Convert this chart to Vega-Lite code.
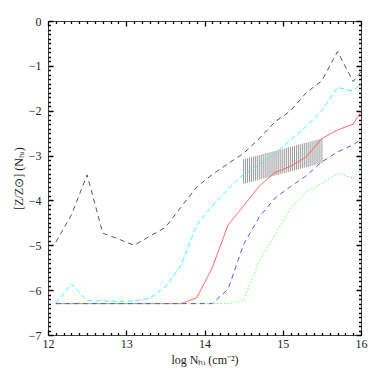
{
  "$schema": "https://vega.github.io/schema/vega-lite/v6.json",
  "width": 313,
  "height": 314,
  "autosize": {"type": "none"},
  "padding": {"left": 48, "top": 21, "right": 21, "bottom": 47},
  "background": "white",
  "config": {
    "view": {"stroke": "#444", "strokeWidth": 1},
    "axis": {"labelFont": "Liberation Serif", "titleFont": "Liberation Serif", "labelFontSize": 12, "titleFontSize": 12, "titleFontWeight": "normal", "labelColor": "#222", "titleColor": "#222", "grid": false, "domain": false, "ticks": true, "tickColor": "#000", "tickWidth": 1.3, "tickSize": 5, "offset": -5, "labelFlush": false, "labelOverlap": false, "zindex": 1,
      "tickDash": {"condition": {"test": "abs(datum.value - round(datum.value)) < 0.01", "value": [1, 0]}, "value": [0, 2.5, 2.5, 0]}}
  },
  "datasets": {
    "hatch": [
      {"x": 14.5, "lo": -3.63, "hi": -3.08},
      {"x": 14.525, "lo": -3.619, "hi": -3.069},
      {"x": 14.55, "lo": -3.607, "hi": -3.057},
      {"x": 14.575, "lo": -3.596, "hi": -3.046},
      {"x": 14.6, "lo": -3.584, "hi": -3.034},
      {"x": 14.625, "lo": -3.573, "hi": -3.023},
      {"x": 14.65, "lo": -3.561, "hi": -3.011},
      {"x": 14.675, "lo": -3.55, "hi": -3.0},
      {"x": 14.7, "lo": -3.538, "hi": -2.988},
      {"x": 14.725, "lo": -3.527, "hi": -2.977},
      {"x": 14.75, "lo": -3.515, "hi": -2.965},
      {"x": 14.775, "lo": -3.504, "hi": -2.954},
      {"x": 14.8, "lo": -3.492, "hi": -2.942},
      {"x": 14.825, "lo": -3.481, "hi": -2.931},
      {"x": 14.85, "lo": -3.469, "hi": -2.919},
      {"x": 14.875, "lo": -3.458, "hi": -2.908},
      {"x": 14.9, "lo": -3.446, "hi": -2.896},
      {"x": 14.925, "lo": -3.435, "hi": -2.885},
      {"x": 14.95, "lo": -3.423, "hi": -2.873},
      {"x": 14.975, "lo": -3.412, "hi": -2.862},
      {"x": 15.0, "lo": -3.4, "hi": -2.85},
      {"x": 15.025, "lo": -3.389, "hi": -2.839},
      {"x": 15.05, "lo": -3.377, "hi": -2.827},
      {"x": 15.075, "lo": -3.366, "hi": -2.816},
      {"x": 15.1, "lo": -3.354, "hi": -2.804},
      {"x": 15.125, "lo": -3.343, "hi": -2.793},
      {"x": 15.15, "lo": -3.331, "hi": -2.781},
      {"x": 15.175, "lo": -3.32, "hi": -2.77},
      {"x": 15.2, "lo": -3.308, "hi": -2.758},
      {"x": 15.225, "lo": -3.297, "hi": -2.747},
      {"x": 15.25, "lo": -3.285, "hi": -2.735},
      {"x": 15.275, "lo": -3.274, "hi": -2.724},
      {"x": 15.3, "lo": -3.262, "hi": -2.712},
      {"x": 15.325, "lo": -3.251, "hi": -2.701},
      {"x": 15.35, "lo": -3.239, "hi": -2.689},
      {"x": 15.375, "lo": -3.228, "hi": -2.678},
      {"x": 15.4, "lo": -3.216, "hi": -2.666},
      {"x": 15.425, "lo": -3.205, "hi": -2.655},
      {"x": 15.45, "lo": -3.193, "hi": -2.643},
      {"x": 15.475, "lo": -3.182, "hi": -2.632},
      {"x": 15.5, "lo": -3.17, "hi": -2.62}
    ],
    "lines": [
      {"s": "k", "x": 12.1, "y": -4.93}, {"s": "k", "x": 12.3, "y": -4.32}, {"s": "k", "x": 12.5, "y": -3.43},
      {"s": "k", "x": 12.7, "y": -4.73}, {"s": "k", "x": 12.9, "y": -4.86}, {"s": "k", "x": 13.1, "y": -5.0},
      {"s": "k", "x": 13.3, "y": -4.8}, {"s": "k", "x": 13.5, "y": -4.6}, {"s": "k", "x": 13.7, "y": -4.15},
      {"s": "k", "x": 13.9, "y": -3.7}, {"s": "k", "x": 14.1, "y": -3.42}, {"s": "k", "x": 14.3, "y": -3.18},
      {"s": "k", "x": 14.5, "y": -2.95}, {"s": "k", "x": 14.7, "y": -2.62}, {"s": "k", "x": 14.9, "y": -2.25},
      {"s": "k", "x": 15.1, "y": -2.0}, {"s": "k", "x": 15.3, "y": -1.6}, {"s": "k", "x": 15.5, "y": -1.33},
      {"s": "k", "x": 15.7, "y": -0.68}, {"s": "k", "x": 15.9, "y": -1.35}, {"s": "k", "x": 16.0, "y": -1.13},

      {"s": "c", "x": 12.1, "y": -6.29}, {"s": "c", "x": 12.3, "y": -5.86}, {"s": "c", "x": 12.5, "y": -6.23},
      {"s": "c", "x": 12.7, "y": -6.24}, {"s": "c", "x": 12.9, "y": -6.25}, {"s": "c", "x": 13.1, "y": -6.24},
      {"s": "c", "x": 13.3, "y": -6.18}, {"s": "c", "x": 13.5, "y": -5.93}, {"s": "c", "x": 13.7, "y": -5.45},
      {"s": "c", "x": 13.9, "y": -4.55}, {"s": "c", "x": 14.1, "y": -4.12}, {"s": "c", "x": 14.3, "y": -3.75},
      {"s": "c", "x": 14.5, "y": -3.42}, {"s": "c", "x": 14.7, "y": -3.2}, {"s": "c", "x": 14.9, "y": -2.95},
      {"s": "c", "x": 15.1, "y": -2.65}, {"s": "c", "x": 15.3, "y": -2.35}, {"s": "c", "x": 15.5, "y": -2.0},
      {"s": "c", "x": 15.7, "y": -1.48}, {"s": "c", "x": 15.9, "y": -1.56}, {"s": "c", "x": 16.0, "y": -1.39},

      {"s": "r", "x": 12.1, "y": -6.3}, {"s": "r", "x": 12.3, "y": -6.3}, {"s": "r", "x": 12.5, "y": -6.3},
      {"s": "r", "x": 12.7, "y": -6.3}, {"s": "r", "x": 12.9, "y": -6.3}, {"s": "r", "x": 13.1, "y": -6.3},
      {"s": "r", "x": 13.3, "y": -6.3}, {"s": "r", "x": 13.5, "y": -6.3}, {"s": "r", "x": 13.7, "y": -6.3},
      {"s": "r", "x": 13.9, "y": -6.17}, {"s": "r", "x": 14.1, "y": -5.5}, {"s": "r", "x": 14.3, "y": -4.55},
      {"s": "r", "x": 14.5, "y": -4.12}, {"s": "r", "x": 14.7, "y": -3.68}, {"s": "r", "x": 14.9, "y": -3.38},
      {"s": "r", "x": 15.1, "y": -3.24}, {"s": "r", "x": 15.3, "y": -3.03}, {"s": "r", "x": 15.5, "y": -2.62},
      {"s": "r", "x": 15.7, "y": -2.43}, {"s": "r", "x": 15.9, "y": -2.3}, {"s": "r", "x": 16.0, "y": -2.02},

      {"s": "g", "x": 12.1, "y": -6.3}, {"s": "g", "x": 12.3, "y": -6.3}, {"s": "g", "x": 12.5, "y": -6.3},
      {"s": "g", "x": 12.7, "y": -6.3}, {"s": "g", "x": 12.9, "y": -6.3}, {"s": "g", "x": 13.1, "y": -6.3},
      {"s": "g", "x": 13.3, "y": -6.3}, {"s": "g", "x": 13.5, "y": -6.3}, {"s": "g", "x": 13.7, "y": -6.3},
      {"s": "g", "x": 13.9, "y": -6.3}, {"s": "g", "x": 14.1, "y": -6.3}, {"s": "g", "x": 14.3, "y": -6.3},
      {"s": "g", "x": 14.5, "y": -6.22}, {"s": "g", "x": 14.7, "y": -5.35}, {"s": "g", "x": 14.9, "y": -4.77},
      {"s": "g", "x": 15.1, "y": -4.18}, {"s": "g", "x": 15.3, "y": -3.8}, {"s": "g", "x": 15.5, "y": -3.62},
      {"s": "g", "x": 15.7, "y": -3.4}, {"s": "g", "x": 15.9, "y": -3.5}, {"s": "g", "x": 16.0, "y": -3.28},

      {"s": "b", "x": 12.1, "y": -6.3}, {"s": "b", "x": 12.3, "y": -6.3}, {"s": "b", "x": 12.5, "y": -6.3},
      {"s": "b", "x": 12.7, "y": -6.3}, {"s": "b", "x": 12.9, "y": -6.3}, {"s": "b", "x": 13.1, "y": -6.3},
      {"s": "b", "x": 13.3, "y": -6.3}, {"s": "b", "x": 13.5, "y": -6.3}, {"s": "b", "x": 13.7, "y": -6.3},
      {"s": "b", "x": 13.9, "y": -6.3}, {"s": "b", "x": 14.1, "y": -6.3}, {"s": "b", "x": 14.3, "y": -5.98},
      {"s": "b", "x": 14.5, "y": -4.98}, {"s": "b", "x": 14.7, "y": -4.37}, {"s": "b", "x": 14.9, "y": -3.95},
      {"s": "b", "x": 15.1, "y": -3.69}, {"s": "b", "x": 15.3, "y": -3.45}, {"s": "b", "x": 15.5, "y": -3.14},
      {"s": "b", "x": 15.7, "y": -2.92}, {"s": "b", "x": 15.9, "y": -2.76}, {"s": "b", "x": 16.0, "y": -2.64}
    ]
  },
  "layer": [
    {
      "data": {"name": "hatch"},
      "mark": {"type": "rule", "color": "#9a9a9a", "strokeWidth": 1},
      "encoding": {
        "x": {"field": "x", "type": "quantitative", "scale": {"domain": [12, 16], "nice": false, "zero": false},
          "axis": {"orient": "bottom", "labelPadding": 3, "title": "log N\u2095\u1d62 (cm\u207b\u00b2)", "titlePadding": 5,
            "labelExpr": "abs(datum.value - round(datum.value)) < 0.01 ? format(datum.value, 'd') : ''",
            "values": [12, 12.1, 12.2, 12.3, 12.4, 12.5, 12.6, 12.7, 12.8, 12.9, 13, 13.1, 13.2, 13.3, 13.4, 13.5, 13.6, 13.7, 13.8, 13.9, 14, 14.1, 14.2, 14.3, 14.4, 14.5, 14.6, 14.7, 14.8, 14.9, 15, 15.1, 15.2, 15.3, 15.4, 15.5, 15.6, 15.7, 15.8, 15.9, 16]}},
        "y": {"field": "lo", "type": "quantitative", "scale": {"domain": [-7, 0], "nice": false, "zero": false},
          "axis": {"orient": "left", "labelPadding": 7, "title": "[Z/Z\u2299] (N\u2095\u1d62)", "titlePadding": 3,
            "labelExpr": "abs(datum.value - round(datum.value)) < 0.01 ? format(datum.value, 'd') : ''",
            "values": [-7, -6.9, -6.8, -6.7, -6.6, -6.5, -6.4, -6.3, -6.2, -6.1, -6, -5.9, -5.8, -5.7, -5.6, -5.5, -5.4, -5.3, -5.2, -5.1, -5, -4.9, -4.8, -4.7, -4.6, -4.5, -4.4, -4.3, -4.2, -4.1, -4, -3.9, -3.8, -3.7, -3.6, -3.5, -3.4, -3.3, -3.2, -3.1, -3, -2.9, -2.8, -2.7, -2.6, -2.5, -2.4, -2.3, -2.2, -2.1, -2, -1.9, -1.8, -1.7, -1.6, -1.5, -1.4, -1.3, -1.2, -1.1, -1, -0.9, -0.8, -0.7, -0.6, -0.5, -0.4, -0.3, -0.2, -0.1, 0]}},
        "y2": {"field": "hi"}
      }
    },
    {
      "data": {"name": "lines"},
      "mark": {"type": "line", "strokeWidth": 1},
      "encoding": {
        "x": {"field": "x", "type": "quantitative",
          "axis": {"orient": "top", "labels": false, "title": null,
            "values": [12, 12.1, 12.2, 12.3, 12.4, 12.5, 12.6, 12.7, 12.8, 12.9, 13, 13.1, 13.2, 13.3, 13.4, 13.5, 13.6, 13.7, 13.8, 13.9, 14, 14.1, 14.2, 14.3, 14.4, 14.5, 14.6, 14.7, 14.8, 14.9, 15, 15.1, 15.2, 15.3, 15.4, 15.5, 15.6, 15.7, 15.8, 15.9, 16]}},
        "y": {"field": "y", "type": "quantitative",
          "axis": {"orient": "right", "labels": false, "title": null,
            "values": [-7, -6.9, -6.8, -6.7, -6.6, -6.5, -6.4, -6.3, -6.2, -6.1, -6, -5.9, -5.8, -5.7, -5.6, -5.5, -5.4, -5.3, -5.2, -5.1, -5, -4.9, -4.8, -4.7, -4.6, -4.5, -4.4, -4.3, -4.2, -4.1, -4, -3.9, -3.8, -3.7, -3.6, -3.5, -3.4, -3.3, -3.2, -3.1, -3, -2.9, -2.8, -2.7, -2.6, -2.5, -2.4, -2.3, -2.2, -2.1, -2, -1.9, -1.8, -1.7, -1.6, -1.5, -1.4, -1.3, -1.2, -1.1, -1, -0.9, -0.8, -0.7, -0.6, -0.5, -0.4, -0.3, -0.2, -0.1, 0]}},
        "color": {"field": "s", "type": "nominal", "legend": null,
          "scale": {"domain": ["k", "c", "r", "g", "b"], "range": ["#555555", "#33ffff", "#ff5555", "#66ff66", "#5555ff"]}},
        "strokeDash": {"field": "s", "type": "nominal", "legend": null,
          "scale": {"domain": ["k", "c", "r", "g", "b"], "range": [[5, 4], [5, 3], [1, 0], [1.5, 2], [5, 4]]}}
      }
    }
  ],
  "resolve": {"axis": {"x": "independent", "y": "independent"}}
}
